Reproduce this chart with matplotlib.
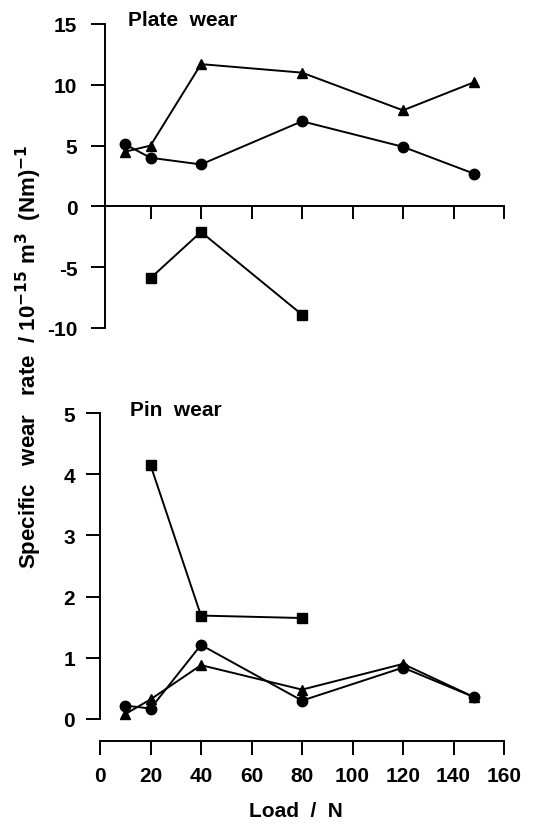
import matplotlib
matplotlib.use('Agg')
import matplotlib.pyplot as plt

plt.rcParams['font.family'] = ['Liberation Sans', 'DejaVu Sans']
plt.rcParams['font.weight'] = 'bold'
plt.rcParams['axes.unicode_minus'] = False

# plate wear
plate_load_tri = [10, 20, 40, 80, 120, 148]
plate_tri = [4.5, 5.0, 11.7, 11.0, 7.9, 10.2]
plate_load_circ = [10, 20, 40, 80, 120, 148]
plate_circ = [5.1, 4.0, 3.45, 7.0, 4.9, 2.7]
plate_load_sq = [20, 40, 80]
plate_sq = [-5.9, -2.1, -8.9]

# pin wear
pin_load_sq = [20, 40, 80]
pin_sq = [4.15, 1.69, 1.65]
pin_load_circ = [10, 20, 40, 80, 120, 148]
pin_circ = [0.22, 0.17, 1.21, 0.30, 0.84, 0.36]
pin_load_tri = [10, 20, 40, 80, 120, 148]
pin_tri = [0.08, 0.32, 0.88, 0.48, 0.90, 0.36]

xticks = [0, 20, 40, 60, 80, 100, 120, 140, 160]
plate_yticks = [-10, -5, 0, 5, 10, 15]
pin_yticks = [0, 1, 2, 3, 4, 5]

W, H = 539, 829
fig = plt.figure(figsize=(W / 100, H / 100), dpi=100)

def fx(px):
    return px / W

def fy(px):
    return 1 - px / H

ax1 = fig.add_axes([fx(100), fy(329), fx(504) - fx(100), fy(25) - fy(329)])
ax2 = fig.add_axes([fx(100), fy(720), fx(504) - fx(100), fy(414) - fy(720)])

line_kw = dict(color='black', lw=1.4, ms=7.5, clip_on=False)
sq_kw = dict(color='black', lw=1.4, ms=6.5, clip_on=False)

ax1.plot(plate_load_tri, plate_tri, marker='^', **line_kw)
ax1.plot(plate_load_circ, plate_circ, marker='o', **line_kw)
ax1.plot(plate_load_sq, plate_sq, marker='s', **sq_kw)

ax2.plot(pin_load_sq, pin_sq, marker='s', **sq_kw)
ax2.plot(pin_load_circ, pin_circ, marker='o', **line_kw)
ax2.plot(pin_load_tri, pin_tri, marker='^', **line_kw)

for ax in (ax1, ax2):
    ax.set_xlim(0, 160)
    ax.spines['top'].set_visible(False)
    ax.spines['right'].set_visible(False)
    for s in ('left', 'bottom'):
        ax.spines[s].set_linewidth(1.4)
    ax.tick_params(length=10, width=1.4, labelsize=15, pad=8)

# top panel
ax1.set_ylim(-10, 15)
ax1.spines['left'].set_position(('data', 2))
ax1.spines['bottom'].set_position(('data', 0))
ax1.spines['bottom'].set_bounds(2, 160)
ax1.set_xticks(xticks[1:])
ax1.set_xticklabels([])
ax1.tick_params(axis='x', length=9)
ax1.set_yticks(plate_yticks)
ax1.set_yticklabels([str(v) for v in plate_yticks])
ax1.tick_params(axis='y', pad=10)
ax1.text(11, 15.4, 'Plate  wear', fontsize=15, fontweight='bold', va='center')

# bottom panel
ax2.set_ylim(0, 5)
ax2.spines['bottom'].set_position(('outward', 16))
ax2.set_xticks(xticks)
ax2.set_yticks(pin_yticks)
ax2.text(12, 5.06, 'Pin  wear', fontsize=15, fontweight='bold', va='center')

fig.text(fx(296), fy(812), 'Load  /  N', fontsize=15, fontweight='bold', ha='center', va='center')
fig.text(fx(29), fy(357),
         r'Specific   wear   rate  / 10$^{\mathbf{-15}}$ m$^{\mathbf{3}}$  (Nm)$^{\mathbf{-1}}$',
         fontsize=16, fontweight='bold', rotation=90, ha='center', va='center')

fig.savefig('out.png', dpi=100)
